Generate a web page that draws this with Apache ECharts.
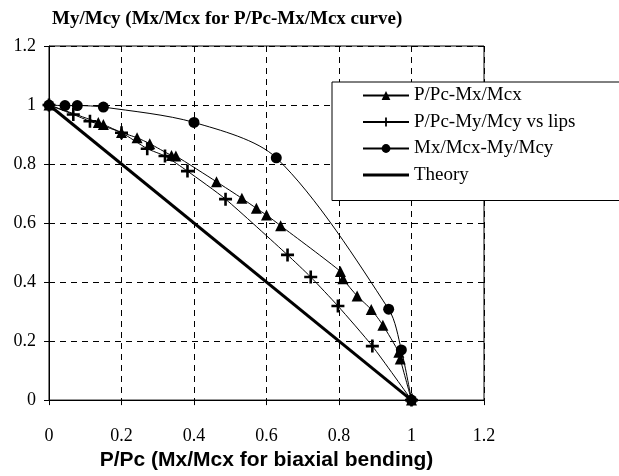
<!DOCTYPE html>
<html>
<head>
<meta charset="utf-8">
<script src="https://cdn.jsdelivr.net/npm/echarts@6/dist/echarts.min.js"></script>
<style>
  html, body { margin: 0; padding: 0; background: #fff; }
  #chart { width: 619px; height: 476px; }
</style>
</head>
<body>
<div id="chart"></div>
<script>
// values, [P/Pc, M/Mc]
var pcMx = [[0,1],[0.136,0.941],[0.150,0.934],[0.200,0.907],[0.243,0.889],[0.278,0.869],
  [0.338,0.829],[0.350,0.827],[0.462,0.740],[0.532,0.684],[0.572,0.650],[0.600,0.627],
  [0.639,0.591],[0.804,0.436],[0.811,0.411],[0.850,0.353],[0.889,0.307],[0.921,0.254],
  [0.965,0.162],[0.969,0.139],[1,0]];
var pcMyLips = [[0,1],[0.067,0.968],[0.113,0.945],[0.200,0.906],[0.271,0.852],[0.320,0.827],
  [0.382,0.776],[0.487,0.681],[0.658,0.492],[0.722,0.417],[0.797,0.319],[0.892,0.183],[1,0]];
var mxMy = [[0,1],[0.044,0.998],[0.078,0.998],[0.150,0.993],[0.400,0.941],[0.627,0.821],
  [0.937,0.308],[0.972,0.17],[1,0]];
var theory = [[0,1],[1,0]];
var names = ['P/Pc-Mx/Mcx', 'P/Pc-My/Mcy vs lips', 'Mx/Mcx-My/Mcy', 'Theory'];

var serif = '"Liberation Serif", "DejaVu Serif", serif';
var plus = 'path://M4,0h2v4h4v2h-4v4h-2v-4h-4v-2h4z';

var myChart = echarts.init(document.getElementById('chart'));
var axisCommon = {
  type: 'value', min: 0, max: 1.2, interval: 0.2,
  axisLine: { show: true, lineStyle: { color: '#000', width: 1 } },
  axisTick: { show: true, length: 5, lineStyle: { color: '#000' } },
  splitLine: { show: true, lineStyle: { color: '#000', type: [6, 5], width: 1 } }
};
myChart.setOption({
  backgroundColor: '#fff',
  animation: false,
  title: {
    text: 'My/Mcy (Mx/Mcx for P/Pc-Mx/Mcx curve)',
    left: 47, top: 5,
    textStyle: { fontFamily: serif, fontWeight: 'bold', fontSize: 19, color: '#000' }
  },
  grid: { left: 49, right: 135, top: 46, bottom: 74, show: true, borderColor: '#000', borderWidth: 1 },
  legend: {
    data: [names[0], names[1], names[2],
      { name: names[3], icon: 'path://M0,0h46v3h-46z' }],
    left: 332, top: 82,
    orient: 'vertical',
    backgroundColor: '#fff',
    borderColor: '#000', borderWidth: 1,
    padding: [4, 80, 16, 30],
    itemWidth: 46, itemHeight: 11, itemGap: 7.5,
    textStyle: { fontFamily: serif, fontSize: 19, color: '#000' }
  },
  xAxis: Object.assign({}, axisCommon, {
    name: 'P/Pc (Mx/Mcx for biaxial bending)',
    nameLocation: 'middle', nameGap: 43,
    nameTextStyle: { fontFamily: '"Liberation Sans", Arial, sans-serif', fontWeight: 'bold', fontSize: 21, color: '#000' },
    axisLabel: { color: '#000', fontFamily: serif, fontSize: 18, margin: 27 }
  }),
  yAxis: Object.assign({}, axisCommon, {
    axisLabel: { color: '#000', fontFamily: serif, fontSize: 18, margin: 13 }
  }),
  series: [
    { name: names[0], type: 'line', data: pcMx, smooth: 0.2, symbol: 'triangle', symbolSize: 11,
      itemStyle: { color: '#000' }, lineStyle: { color: '#000', width: 1 }, z: 4 },
    { name: names[1], type: 'line', data: pcMyLips, smooth: 0.2, symbol: plus, symbolSize: 13,
      itemStyle: { color: '#000' }, lineStyle: { color: '#000', width: 1 }, z: 4 },
    { name: names[2], type: 'line', data: mxMy, smooth: 0.3, symbol: 'circle', symbolSize: 11,
      itemStyle: { color: '#000' }, lineStyle: { color: '#000', width: 1 }, z: 4 },
    { name: names[3], type: 'line', data: theory, symbol: 'none',
      itemStyle: { color: '#000' }, lineStyle: { color: '#000', width: 3 }, z: 3 }
  ]
});
</script>
</body>
</html>
